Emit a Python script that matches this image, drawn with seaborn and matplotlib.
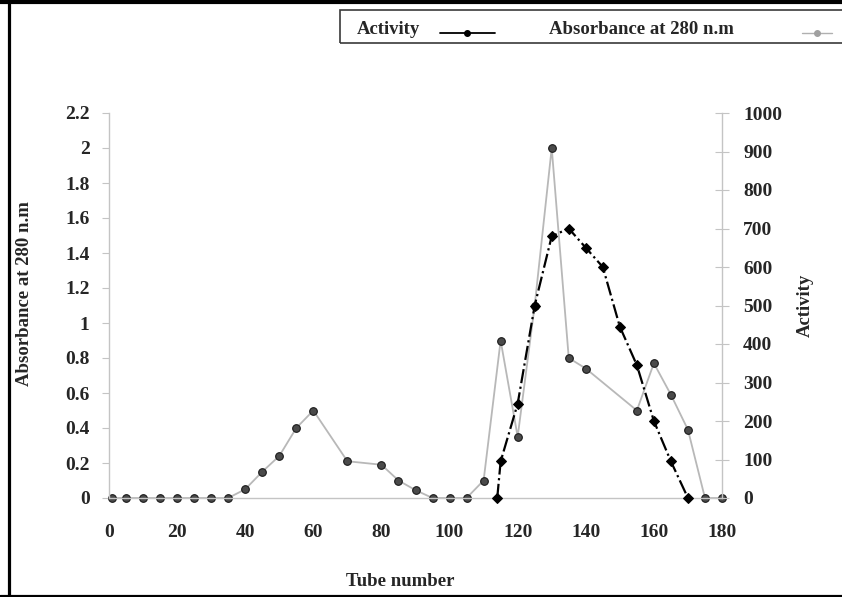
import numpy as np
import pandas as pd
import matplotlib
matplotlib.use("Agg")
import matplotlib.pyplot as plt
import seaborn as sns
from matplotlib.lines import Line2D
from matplotlib.patches import Rectangle
from matplotlib.ticker import FuncFormatter

# ---- data ----
tube_abs = [1, 5, 10, 15, 20, 25, 30, 35, 40, 45, 50, 55, 60, 70, 80, 85, 90, 95,
            100, 105, 110, 115, 120, 125, 130, 135, 140, 155, 160, 165, 170, 175, 180]
absorbance = [0, 0, 0, 0, 0, 0, 0, 0, 0.05, 0.15, 0.24, 0.40, 0.50, 0.21, 0.19, 0.10,
              0.045, 0, 0, 0, 0.10, 0.90, 0.35, 1.10, 2.00, 0.80, 0.74, 0.50, 0.77,
              0.59, 0.39, 0, 0]
tube_act = [114, 115, 120, 125, 130, 135, 140, 145, 150, 155, 160, 165, 170]
activity = [0, 95, 245, 500, 680, 700, 650, 600, 445, 345, 200, 95, 0]

x_ticks = [0, 20, 40, 60, 80, 100, 120, 140, 160, 180]
abs_ticks = [0, 0.2, 0.4, 0.6, 0.8, 1.0, 1.2, 1.4, 1.6, 1.8, 2.0, 2.2]
act_ticks = [0, 100, 200, 300, 400, 500, 600, 700, 800, 900, 1000]

sns.set_style("white")
plt.rcParams['font.family'] = ['Liberation Serif', 'DejaVu Serif']
plt.rcParams['font.weight'] = 'bold'

W, H = 842, 597
fig = plt.figure(figsize=(W / 100, H / 100), dpi=100)
ax = fig.add_axes([109 / W, 1 - 498 / H, 613 / W, 385 / H])
ax2 = ax.twinx()

sns.lineplot(x=tube_abs, y=absorbance, ax=ax, color='#b8b8b8', linewidth=1.3,
             marker='o', markersize=5.5, markerfacecolor='#4a4a4a',
             markeredgecolor='#1a1a1a', markeredgewidth=0.8,
             sort=False, estimator=None, clip_on=False)
sns.lineplot(x=tube_act, y=activity, ax=ax2, color='black', linewidth=1.6,
             linestyle='-.', marker='D', markersize=5, markerfacecolor='black',
             markeredgecolor='black', sort=False, estimator=None, clip_on=False)

ax.set_xlim(0, 180)
ax.set_ylim(0, 2.2)
ax2.set_ylim(0, 1000)
ax.set_xticks(x_ticks)
ax.set_yticks(abs_ticks)
ax2.set_yticks(act_ticks)
ax.yaxis.set_major_formatter(FuncFormatter(lambda v, p: f"{v:g}"))
ax.set_xlabel("")
ax.set_ylabel("")
ax2.set_ylabel("")

axis_col = '#c4c4c4'
for s in ['top', 'right']:
    ax.spines[s].set_visible(False)
for s in ['left', 'bottom']:
    ax.spines[s].set_color(axis_col)
    ax.spines[s].set_linewidth(1.0)
for s in ['top', 'left', 'bottom']:
    ax2.spines[s].set_visible(False)
ax2.spines['right'].set_color(axis_col)
ax2.spines['right'].set_linewidth(1.0)

ax.tick_params(axis='y', direction='out', length=5, width=0.8, color=axis_col,
               pad=9, labelsize=14)
ax.tick_params(axis='x', direction='out', length=5, width=0.8, color=axis_col,
               pad=14, labelsize=14)
ax2.tick_params(axis='y', direction='inout', length=9.4, width=0.8, color=axis_col,
                pad=10.5, labelsize=14)
for lab in ax.get_xticklabels() + ax.get_yticklabels() + ax2.get_yticklabels():
    lab.set_fontweight('bold')

# axis titles
fig.text(25 / W, 1 - 294 / H, "Absorbance at 280 n.m", rotation=90, ha='center',
         va='center', fontsize=13.5, fontweight='bold')
fig.text(805 / W, 1 - 305 / H, "Activity", rotation=90, ha='center', va='center',
         fontsize=13.5, fontweight='bold')
fig.text(400 / W, 1 - 582 / H, "Tube number", ha='center', va='center',
         fontsize=13.5, fontweight='bold')

# legend box (text first, then line sample)
fig.add_artist(Rectangle((340 / W, 1 - 43 / H), 520 / W, 33 / H, fill=False,
                         edgecolor='#3a3a3a', linewidth=1.2,
                         transform=fig.transFigure, clip_on=False))
ybase = 1 - 33.5 / H
fig.text(357 / W, ybase, "Activity", ha='left', va='baseline', fontsize=13.5,
         fontweight='bold')
fig.add_artist(Line2D([440 / W, 495 / W], [1 - 33 / H] * 2, color='black', lw=1.3,
                      transform=fig.transFigure))
fig.add_artist(Line2D([467 / W], [1 - 33 / H], marker='o', ms=4, color='black',
                      transform=fig.transFigure))
fig.text(549 / W, ybase, "Absorbance at 280 n.m", ha='left', va='baseline',
         fontsize=13.5, fontweight='bold')
fig.add_artist(Line2D([802 / W, 832 / W], [1 - 33 / H] * 2, color='#b0b0b0', lw=1.0,
                      transform=fig.transFigure))
fig.add_artist(Line2D([817 / W], [1 - 33 / H], marker='o', ms=4, color='#a0a0a0',
                      transform=fig.transFigure))

# outer frame (left, top, bottom)
fig.add_artist(Line2D([8.5 / W, 8.5 / W], [0, 1], color='black', lw=2.3,
                      transform=fig.transFigure))
fig.add_artist(Line2D([0, 1], [1 - 2 / H, 1 - 2 / H], color='black', lw=3.0,
                      transform=fig.transFigure))
fig.add_artist(Line2D([0, 1], [1.5 / H, 1.5 / H], color='black', lw=2.3,
                      transform=fig.transFigure))

fig.savefig("out.png", dpi=100)
